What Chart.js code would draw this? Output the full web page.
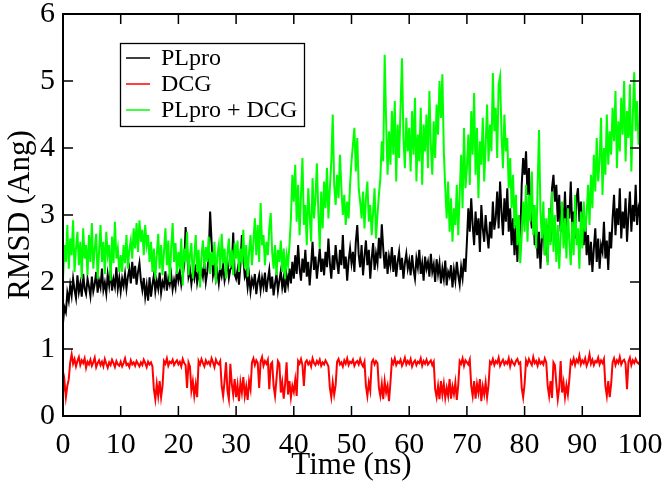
<!DOCTYPE html>
<html lang="en">
<head>
    <meta charset="UTF-8">
    <title>RMSD</title>
    <script src="https://cdn.jsdelivr.net/npm/chart.js"></script>
    <style>
        body { margin: 0; background: #fff; }
    </style>
</head>
<body>
    <canvas id="rmsdChart" width="666" height="484"></canvas>
    <script>
        // frames every 0.25 ns, 0 .. 100 ns
        const sampleStepNs = 0.25;

        const rmsdPLpro = [
            1.39, 1.62, 1.55, 1.84, 1.72, 1.95, 1.80, 2.05, 1.88, 1.76, 2.10, 1.85, 1.98, 1.78, 2.12, 1.90, 1.82, 2.05, 1.93, 1.79,
            2.08, 1.86, 1.97, 2.15, 1.84, 2.02, 1.92, 2.20, 1.88, 1.99, 1.83, 2.11, 1.95, 2.18, 1.87, 2.04, 1.93, 2.22, 1.90, 2.06,
            1.86, 2.05, 1.94, 2.12, 1.90, 2.08, 2.20, 1.98, 2.30, 2.05, 2.24, 1.96, 2.15, 2.28, 2.02, 1.88, 2.06, 1.78, 1.95, 1.72,
            2.07, 1.78, 1.96, 2.10, 1.86, 2.02, 1.90, 2.14, 1.84, 2.00, 1.93, 2.16, 1.87, 2.05, 1.96, 2.11, 1.89, 2.03, 1.92, 2.19,
            2.02, 2.15, 1.96, 2.10, 2.24, 2.82, 2.50, 2.08, 2.18, 1.97, 2.14, 2.05, 2.26, 1.99, 2.12, 2.03, 2.20, 2.08, 2.28, 2.00,
            2.15, 2.40, 3.05, 2.60, 2.10, 2.22, 2.04, 2.16, 1.98, 2.20, 2.09, 2.25, 2.02, 2.14, 2.30, 2.06, 2.19, 2.22, 2.74, 2.12,
            2.05, 2.18, 1.96, 2.26, 2.70, 2.35, 2.08, 2.15, 1.92, 2.10, 1.86, 2.04, 1.95, 2.12, 1.82, 2.00, 2.10, 1.88, 2.06, 1.93,
            2.14, 1.85, 2.03, 2.18, 1.90, 2.08, 1.80, 1.98, 2.12, 1.87, 2.02, 2.16, 1.92, 2.06, 1.84, 2.10, 1.96, 2.20, 1.98, 2.30,
            2.05, 2.40, 2.12, 2.55, 2.20, 2.02, 2.35, 2.14, 2.48, 2.08, 2.30, 1.95, 2.25, 2.60, 2.18, 2.38, 2.05, 2.28, 2.50, 2.15,
            2.35, 2.10, 2.45, 2.22, 2.65, 2.28, 2.05, 2.40, 2.18, 2.55, 2.30, 2.12, 2.48, 2.25, 2.70, 2.20, 2.38, 2.02, 2.32, 2.50,
            2.28, 2.45, 2.15, 2.60, 2.85, 2.40, 2.22, 2.55, 2.10, 2.38, 2.62, 2.25, 2.48, 2.05, 2.35, 2.58, 2.18, 2.42, 2.28, 2.66,
            2.35, 2.86, 2.50, 2.20, 2.45, 2.12, 2.38, 2.25, 2.52, 2.15, 2.40, 2.08, 2.30, 2.45, 2.18, 2.36, 2.05, 2.28, 2.42, 2.20,
            2.32, 2.10, 2.40, 2.18, 2.05, 2.35, 2.22, 2.48, 2.12, 2.28, 2.02, 2.38, 2.20, 2.30, 2.08, 2.42, 2.15, 2.26, 2.00, 2.34,
            2.12, 2.28, 1.98, 2.20, 2.05, 2.32, 1.95, 2.15, 2.08, 2.25, 1.92, 2.18, 2.02, 2.30, 2.10, 1.96, 2.22, 2.06, 2.35, 2.15,
            2.60, 3.10, 2.75, 3.25, 2.85, 2.55, 3.05, 2.70, 2.95, 2.45, 3.15, 2.80, 2.60, 3.00, 2.72, 2.50, 2.90, 2.65, 3.20, 2.78,
            2.95, 3.35, 2.80, 3.50, 3.05, 2.70, 3.25, 2.90, 3.40, 2.75, 3.10, 2.55, 2.95, 2.40, 2.85, 2.30, 3.00, 2.60, 3.45, 3.85,
            3.60, 3.95, 3.30, 3.70, 3.05, 2.80, 3.15, 2.55, 2.90, 2.35, 2.75, 2.20, 2.65, 2.95, 2.40, 2.85, 2.30, 3.10, 2.60, 3.40,
            3.60, 3.20, 3.45, 2.90, 3.30, 2.75, 3.10, 2.85, 3.35, 2.70, 3.15, 2.95, 3.50, 2.80, 3.05, 2.65, 3.25, 3.40, 2.90, 3.20,
            2.85, 2.55, 2.95, 2.40, 2.70, 2.25, 2.60, 2.15, 2.50, 2.80, 2.30, 2.65, 2.20, 2.55, 2.45, 2.90, 2.35, 2.62, 2.18, 2.75,
            2.50, 2.95, 3.30, 2.70, 3.10, 2.85, 3.40, 2.65, 3.05, 2.80, 3.25, 2.60, 3.00, 3.35, 2.75, 3.15, 2.90, 3.45, 2.85, 3.10, 3.00
        ];

        const rmsdDCG = [
            0.35, 0.52, 0.28, 0.45, 0.55, 0.80, 0.92, 0.78, 0.85, 0.74, 0.82, 0.88, 0.76, 0.83, 0.79, 0.86, 0.72, 0.81, 0.77, 0.84,
            0.75, 0.80, 0.87, 0.73, 0.79, 0.83, 0.76, 0.81, 0.74, 0.85, 0.78, 0.72, 0.80, 0.76, 0.84, 0.79, 0.73, 0.82, 0.77, 0.75,
            0.81, 0.74, 0.79, 0.86, 0.76, 0.78, 0.73, 0.83, 0.77, 0.80, 0.75, 0.82, 0.78, 0.74, 0.80, 0.76, 0.84, 0.79, 0.73, 0.81,
            0.77, 0.80, 0.74, 0.40, 0.25, 0.48, 0.30, 0.52, 0.28, 0.45, 0.82, 0.78, 0.86, 0.75, 0.81, 0.79, 0.84, 0.76, 0.80, 0.83,
            0.77, 0.81, 0.74, 0.85, 0.79, 0.76, 0.42, 0.80, 0.74, 0.38, 0.52, 0.30, 0.47, 0.28, 0.82, 0.77, 0.85, 0.79, 0.74, 0.83,
            0.78, 0.81, 0.76, 0.86, 0.80, 0.73, 0.84, 0.79, 0.77, 0.82, 0.45, 0.30, 0.52, 0.80, 0.38, 0.25, 0.78, 0.48, 0.32, 0.55,
            0.28, 0.46, 0.22, 0.50, 0.35, 0.58, 0.30, 0.44, 0.24, 0.52, 0.40, 0.80, 0.86, 0.76, 0.83, 0.79, 0.42, 0.81, 0.88, 0.75,
            0.82, 0.78, 0.84, 0.40, 0.77, 0.80, 0.45, 0.30, 0.55, 0.82, 0.78, 0.35, 0.50, 0.26, 0.48, 0.80, 0.32, 0.52, 0.28, 0.45,
            0.36, 0.54, 0.30, 0.82, 0.78, 0.85, 0.76, 0.45, 0.80, 0.83, 0.77, 0.81, 0.74, 0.86, 0.79, 0.76, 0.82, 0.78, 0.84, 0.75,
            0.80, 0.77, 0.83, 0.79, 0.74, 0.42, 0.28, 0.50, 0.32, 0.46, 0.81, 0.85, 0.77, 0.80, 0.74, 0.83, 0.78, 0.86, 0.76, 0.81,
            0.79, 0.84, 0.75, 0.80, 0.82, 0.77, 0.85, 0.78, 0.74, 0.81, 0.45, 0.30, 0.50, 0.38, 0.80, 0.84, 0.77, 0.82, 0.79, 0.42,
            0.30, 0.48, 0.25, 0.52, 0.35, 0.45, 0.22, 0.50, 0.83, 0.78, 0.86, 0.76, 0.81, 0.79, 0.84, 0.75, 0.80, 0.87, 0.77, 0.82,
            0.78, 0.85, 0.74, 0.80, 0.83, 0.76, 0.81, 0.79, 0.86, 0.75, 0.82, 0.78, 0.84, 0.77, 0.80, 0.83, 0.76, 0.81, 0.40, 0.28,
            0.45, 0.25, 0.52, 0.32, 0.48, 0.27, 0.42, 0.30, 0.55, 0.26, 0.44, 0.33, 0.50, 0.24, 0.46, 0.82, 0.78, 0.86, 0.75, 0.83,
            0.80, 0.77, 0.84, 0.45, 0.30, 0.52, 0.26, 0.48, 0.35, 0.55, 0.22, 0.44, 0.32, 0.50, 0.28, 0.46, 0.81, 0.78, 0.85, 0.76,
            0.82, 0.79, 0.87, 0.75, 0.80, 0.84, 0.77, 0.81, 0.78, 0.86, 0.74, 0.83, 0.79, 0.76, 0.82, 0.85, 0.78, 0.80, 0.42, 0.28,
            0.48, 0.83, 0.77, 0.85, 0.80, 0.76, 0.88, 0.79, 0.82, 0.75, 0.84, 0.78, 0.81, 0.77, 0.86, 0.80, 0.45, 0.30, 0.52, 0.27,
            0.80, 0.76, 0.48, 0.25, 0.42, 0.82, 0.35, 0.50, 0.28, 0.46, 0.32, 0.54, 0.82, 0.78, 0.86, 0.76, 0.84, 0.80, 0.90, 0.77,
            0.83, 0.79, 0.86, 0.75, 0.81, 0.92, 0.78, 0.84, 0.76, 0.82, 0.80, 0.87, 0.77, 0.83, 0.79, 0.85, 0.45, 0.30, 0.52, 0.28,
            0.48, 0.80, 0.86, 0.76, 0.83, 0.79, 0.88, 0.77, 0.82, 0.84, 0.78, 0.40, 0.81, 0.87, 0.76, 0.83, 0.79, 0.85, 0.80, 0.78, 0.82
        ];

        const rmsdComplex = [
            2.05, 2.55, 2.30, 2.85, 2.20, 2.65, 2.40, 2.92, 2.15, 2.50, 2.75, 2.25, 2.60, 2.05, 2.80, 2.35, 2.55, 2.10, 2.70, 2.30,
            2.88, 2.20, 2.50, 2.72, 2.05, 2.45, 2.85, 2.30, 2.60, 2.12, 2.75, 2.40, 2.55, 2.02, 2.68, 2.28, 2.90, 2.35, 2.50, 2.15,
            2.40, 2.15, 2.55, 2.28, 2.70, 2.20, 2.48, 2.62, 2.35, 2.80, 2.50, 2.88, 2.45, 2.92, 2.60, 2.78, 2.40, 2.85, 2.55, 2.70,
            2.30, 2.60, 2.15, 2.50, 2.05, 2.40, 2.72, 2.20, 2.55, 2.10, 2.45, 2.80, 2.25, 2.62, 2.00, 2.50, 2.88, 2.30, 2.58, 2.12,
            2.45, 2.20, 2.65, 1.95, 2.50, 2.30, 2.75, 2.10, 2.40, 2.58, 2.05, 2.35, 2.70, 2.15, 2.48, 1.92, 2.38, 2.62, 2.20, 2.52,
            2.30, 2.68, 2.12, 2.45, 2.25, 2.60, 1.98, 2.40, 2.55, 2.18, 2.72, 2.28, 2.50, 2.05, 2.42, 2.65, 2.22, 2.48, 2.10, 2.58,
            2.35, 2.62, 2.15, 2.50, 2.28, 2.78, 2.20, 2.55, 2.08, 2.45, 2.70, 2.25, 2.60, 2.95, 2.40, 2.85, 2.30, 3.18, 2.55, 2.70,
            2.25, 2.60, 2.40, 2.80, 3.03, 2.45, 2.20, 2.55, 2.10, 2.48, 2.30, 2.62, 2.15, 2.50, 2.05, 2.40, 2.25, 2.55, 2.95, 3.60,
            3.20, 3.75, 2.90, 3.45, 2.70, 3.30, 3.85, 2.85, 3.15, 2.55, 3.40, 3.00, 2.60, 3.55, 2.95, 3.25, 3.77, 3.05, 2.50, 3.35,
            2.80, 3.50, 3.10, 3.70, 2.95, 3.40, 3.80, 4.50, 3.45, 3.15, 3.60, 3.25, 3.90, 3.40, 3.00, 3.30, 2.85, 3.20, 2.95, 3.45,
            3.80, 4.05, 4.30, 3.65, 4.15, 3.40, 3.20, 2.95, 3.35, 2.80, 3.25, 3.50, 2.90, 3.15, 2.70, 3.05, 3.40, 2.65, 3.00, 3.30,
            3.55, 4.10, 3.80, 5.39, 4.40, 3.60, 4.25, 3.75, 4.55, 3.90, 4.70, 3.50, 4.35, 3.85, 4.60, 5.34, 4.15, 3.70, 4.45, 3.95,
            4.30, 3.65, 4.55, 3.90, 4.75, 3.50, 4.20, 3.80, 4.60, 3.45, 4.35, 3.95, 4.50, 3.70, 4.85, 4.05, 3.60, 4.40, 3.85, 4.65,
            4.20, 5.00, 4.45, 5.10, 3.95, 3.40, 2.95, 3.50, 2.75, 3.25, 2.60, 3.10, 2.85, 3.45, 2.70, 3.30, 3.90, 3.10, 4.30, 3.40,
            3.70, 4.20, 3.45, 4.55, 3.90, 4.82, 3.60, 4.30, 3.25, 4.10, 3.75, 4.45, 3.50, 4.05, 4.65, 3.80, 4.35, 3.95, 5.12, 4.25,
            4.60, 3.85, 4.95, 5.07, 4.20, 3.70, 4.50, 3.95, 4.15, 3.40, 3.85, 3.10, 3.60, 2.80, 3.30, 2.55, 3.00, 2.28, 2.70, 3.20,
            2.75, 3.45, 2.60, 3.30, 2.90, 3.65, 2.70, 3.15, 2.50, 3.40, 4.27, 3.05, 2.65, 3.20, 2.40, 2.95, 2.25, 3.10, 2.55, 3.35,
            2.45, 3.00, 2.30, 2.85, 2.20, 2.70, 3.20, 2.50, 2.95, 2.35, 3.10, 2.60, 2.25, 2.90, 2.40, 3.30, 2.55, 2.80, 2.20, 3.05,
            2.50, 3.20, 2.75, 3.00, 3.45, 2.85, 3.60, 3.10, 3.90, 3.35, 4.15, 3.50, 3.80, 4.45, 3.30, 4.00, 3.60, 4.50, 3.75, 4.25,
            3.90, 4.60, 4.10, 4.85, 3.70, 4.40, 3.95, 4.75, 4.20, 5.00, 3.80, 4.55, 4.15, 4.95, 3.65, 4.45, 5.13, 4.25, 4.70, 4.05, 4.40
        ];

        const seriesLabels = ['PLpro', 'DCG', 'PLpro + DCG'];
        const seriesColors = ['#000000', '#ff0000', '#00ff00'];

        function toPoints(values) {
            return values.map((v, i) => ({ x: i * sampleStepNs, y: v }));
        }

        const serif = "'Liberation Serif', 'Times New Roman', serif";
        Chart.defaults.font.family = serif;
        Chart.defaults.color = '#000';

        // box around the plot with inward ticks on all four sides
        const frameTicks = {
            id: 'frameTicks',
            afterDatasetsDraw(chart) {
                const { ctx, chartArea: a, scales } = chart;
                const tick = 10;
                ctx.save();
                ctx.strokeStyle = '#000';
                ctx.lineWidth = 1.5;
                ctx.beginPath();
                scales.x.ticks.forEach(t => {
                    const px = scales.x.getPixelForValue(t.value);
                    ctx.moveTo(px, a.bottom); ctx.lineTo(px, a.bottom - tick);
                    ctx.moveTo(px, a.top); ctx.lineTo(px, a.top + tick);
                });
                scales.y.ticks.forEach(t => {
                    const py = scales.y.getPixelForValue(t.value);
                    ctx.moveTo(a.left, py); ctx.lineTo(a.left + tick, py);
                    ctx.moveTo(a.right, py); ctx.lineTo(a.right - tick, py);
                });
                ctx.stroke();
                ctx.lineWidth = 2;
                ctx.strokeRect(a.left, a.top, a.right - a.left, a.bottom - a.top);
                ctx.restore();
            }
        };

        // xmgrace style legend box
        const boxLegend = {
            id: 'boxLegend',
            afterDraw(chart) {
                const ctx = chart.ctx;
                ctx.save();
                ctx.fillStyle = '#fff';
                ctx.fillRect(120, 43, 184, 83);
                ctx.strokeStyle = '#000';
                ctx.lineWidth = 1.3;
                ctx.strokeRect(120.5, 43.5, 184, 83);
                ctx.font = '24px ' + serif;
                ctx.textBaseline = 'middle';
                chart.data.datasets.forEach((ds, i) => {
                    const yy = 58 + i * 26;
                    ctx.strokeStyle = ds.borderColor;
                    ctx.lineWidth = 1.5;
                    ctx.beginPath();
                    ctx.moveTo(126, yy);
                    ctx.lineTo(150, yy);
                    ctx.stroke();
                    ctx.fillStyle = '#000';
                    ctx.fillText(ds.label, 161, yy + 1);
                });
                ctx.restore();
            }
        };

        const allValues = [rmsdPLpro, rmsdDCG, rmsdComplex];
        const drawOrder = [2, 1, 0];

        new Chart(document.getElementById('rmsdChart'), {
            type: 'line',
            data: {
                datasets: allValues.map((vals, i) => ({
                    label: seriesLabels[i],
                    data: toPoints(vals),
                    borderColor: seriesColors[i],
                    backgroundColor: seriesColors[i],
                    borderWidth: 2,
                    pointRadius: 0,
                    tension: 0,
                    fill: false,
                    order: drawOrder[i]
                }))
            },
            options: {
                responsive: false,
                animation: false,
                layout: { padding: { top: 14, right: 26, left: 0, bottom: 0 } },
                plugins: {
                    legend: { display: false },
                    tooltip: { enabled: false }
                },
                scales: {
                    x: {
                        type: 'linear',
                        min: 0,
                        max: 100,
                        ticks: { stepSize: 10, padding: 11, maxRotation: 0, font: { size: 30 } },
                        grid: { display: false, drawTicks: false },
                        border: { display: false },
                        title: { display: true, text: 'Time (ns)', font: { size: 31 }, padding: { top: 0, bottom: 0 } },
                        afterFit(s) { s.height = 68; s.paddingLeft = 0; s.paddingRight = 0; }
                    },
                    y: {
                        min: 0,
                        max: 6,
                        ticks: { stepSize: 1, padding: 8, font: { size: 30 } },
                        grid: { display: false, drawTicks: false },
                        border: { display: false },
                        title: { display: true, text: 'RMSD (Ang)', font: { size: 31 }, padding: { top: 2, bottom: 0 } },
                        afterFit(s) { s.width = 63; s.paddingTop = 0; s.paddingBottom = 0; }
                    }
                }
            },
            plugins: [frameTicks, boxLegend]
        });
    </script>
</body>
</html>
